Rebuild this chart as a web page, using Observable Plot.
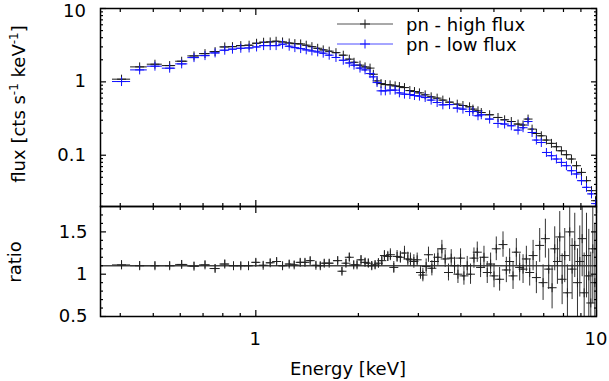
<!DOCTYPE html>
<html><head><meta charset="utf-8">
<script src="https://cdn.jsdelivr.net/npm/d3@7"></script>
<script src="https://cdn.jsdelivr.net/npm/@observablehq/plot@0.6"></script>
<style>
html,body{margin:0;padding:0;background:#fff;}
#chart{position:relative;width:609px;height:381px;overflow:hidden;}
#chart svg{position:absolute;left:0;overflow:visible;}
</style></head><body><div id="chart"></div>
<script>
// ---- data ----
const energy = [0.4035,0.456,0.5057,0.5586,0.6058,0.6585,0.7093,0.7593,0.8106,0.854,0.9034,0.9556,1.005,1.054,1.102,1.147,1.198,1.253,1.302,1.354,1.406,1.461,1.519,1.577,1.642,1.719,1.806,1.881,1.942,2.022,2.092,2.164,2.213,2.269,2.331,2.4,2.478,2.564,2.639,2.731,2.832,2.922,3.022,3.141,3.271,3.406,3.54,3.703,3.902,4.055,4.24,4.338,4.489,4.59,4.856,5.139,5.374,5.623,5.885,6.087,6.297,6.47,6.661,6.888,7.129,7.375,7.627,7.889,8.161,8.443,8.735,9.034,9.346,9.667,9.933];
const fluxHigh = [1.088,1.6,1.741,1.667,1.912,2.258,2.427,2.584,2.993,3.02,3.12,3.16,3.36,3.47,3.5,3.58,3.5,3.39,3.32,3.29,3.16,3.02,2.87,2.73,2.62,2.5,2.31,2.04,1.85,1.69,1.6,1.54,1.27,1.03,0.948,0.919,0.91,0.882,0.863,0.836,0.761,0.738,0.708,0.665,0.625,0.6,0.564,0.529,0.497,0.476,0.457,0.425,0.403,0.382,0.356,0.327,0.304,0.288,0.266,0.258,0.311,0.227,0.198,0.184,0.161,0.145,0.1305,0.115,0.1016,0.0888,0.072,0.0583,0.045,0.0329,0.024];
const fluxLow = [1.01,1.456,1.635,1.536,1.758,2.141,2.279,2.48,2.7,2.79,2.87,2.9,2.99,3.12,3.12,3.12,3.26,3.06,2.93,2.84,2.73,2.64,2.56,2.46,2.31,2.15,1.97,1.81,1.69,1.54,1.456,1.297,1.17,0.978,0.754,0.754,0.771,0.771,0.708,0.68,0.672,0.651,0.639,0.611,0.564,0.523,0.486,0.49,0.439,0.425,0.394,0.394,0.345,0.356,0.311,0.271,0.266,0.252,0.22,0.237,0.288,0.204,0.161,0.149,0.109,0.0985,0.0888,0.0798,0.072,0.0615,0.0555,0.045,0.0365,0.0297,0.0219];

const ratioEnergy = [0.4035,0.456,0.5057,0.5586,0.6058,0.6585,0.7093,0.7593,0.8106,0.86,0.9034,0.9518,1.0,1.051,1.102,1.151,1.198,1.253,1.296,1.35,1.394,1.444,1.501,1.546,1.588,1.642,1.739,1.79,1.839,1.881,1.938,1.982,2.036,2.092,2.139,2.189,2.239,2.29,2.343,2.385,2.44,2.483,2.541,2.598,2.657,2.731,2.794,2.844,2.91,2.976,3.043,3.093,3.162,3.212,3.287,3.345,3.423,3.517,3.596,3.677,3.746,3.831,3.92,3.99,4.082,4.174,4.268,4.368,4.467,4.568,4.674,4.779,4.888,5.002,5.08,5.195,5.316,5.437,5.559,5.689,5.817,5.949,6.087,6.225,6.366,6.514,6.661,6.812,6.97,7.079,7.239,7.407,7.54,7.679,7.8,7.927,8.068,8.216,8.345,8.481,8.633,8.793,8.932,9.077,9.201,9.346,9.493,9.621,9.752,9.886];
const ratioValue = [1.11,1.1,1.1,1.1,1.115,1.095,1.11,1.067,1.12,1.1,1.1,1.1,1.14,1.105,1.135,1.15,1.1,1.12,1.11,1.14,1.14,1.16,1.105,1.1,1.13,1.13,1.16,1.035,1.13,1.2,1.11,1.11,1.17,1.14,1.13,1.1,1.11,1.13,1.16,1.22,1.21,1.23,1.08,1.21,1.2,1.25,1.18,1.17,1.15,1.17,1.02,0.99,1.09,1.23,1.07,1.15,1.2,1.3,1.18,1.02,1.19,1.1,1.0,1.19,0.98,1.1,1.0,1.19,1.26,1.08,1.2,1.02,1.12,0.98,1.3,0.94,1.35,1.05,1.15,0.98,1.26,1.08,1.06,1.18,1.02,1.22,0.96,1.34,0.9,1.42,1.06,0.84,1.3,1.15,1.44,0.94,1.22,0.78,1.5,1.06,1.34,0.9,1.15,1.42,0.78,1.22,0.98,0.66,1.3,0.9];
const ratioError = [0.05,0.05,0.045,0.045,0.045,0.045,0.045,0.045,0.045,0.04,0.04,0.04,0.04,0.04,0.04,0.04,0.04,0.04,0.04,0.04,0.04,0.04,0.04,0.04,0.04,0.04,0.045,0.045,0.045,0.05,0.045,0.045,0.05,0.05,0.05,0.05,0.05,0.055,0.06,0.06,0.06,0.07,0.07,0.07,0.07,0.08,0.08,0.08,0.08,0.08,0.08,0.08,0.09,0.09,0.09,0.09,0.1,0.1,0.1,0.1,0.1,0.1,0.11,0.11,0.11,0.11,0.12,0.12,0.12,0.12,0.13,0.13,0.13,0.14,0.14,0.14,0.15,0.15,0.15,0.16,0.16,0.16,0.17,0.15,0.16,0.18,0.19,0.2,0.21,0.23,0.24,0.25,0.26,0.27,0.3,0.3,0.32,0.33,0.35,0.36,0.38,0.4,0.42,0.45,0.47,0.5,0.55,0.6,0.65,0.7];
const ratioModel = 1.1;

const seriesNames = ["pn - high flux", "pn - low flux"];
const xTickLabels = [1, 10];
const fluxTickLabels = [0.1, 1, 10];
const ratioTickLabels = [0.5, 1, 1.5];
const xAxisTitle = "Energy [keV]";
const ratioTitle = "ratio";

// ---- derived ----
const colors = ["#1a1a1a", "#1010ff"];
function withBins(E, extra) {
  return E.map((e, i) => {
    const lo = i > 0 ? Math.sqrt(E[i-1]*e) : e*e/Math.sqrt(e*E[i+1]);
    const hi = i < E.length-1 ? Math.sqrt(e*E[i+1]) : e*e/Math.sqrt(E[i-1]*e);
    return Object.assign({e, lo, hi}, extra(i));
  });
}
const high = withBins(energy, i => ({f: fluxHigh[i]}));
const low = withBins(energy, i => ({f: fluxLow[i]}));
const ratio = withBins(ratioEnergy, i => ({r: ratioValue[i], r1: ratioValue[i]-ratioError[i], r2: ratioValue[i]+ratioError[i]}));

const xMinor = [0.4,0.5,0.6,0.7,0.8,0.9,2,3,4,5,6,7,8,9];
const fluxMinor = [];
[0.01,0.1,1].forEach(d => [2,3,4,5,6,7,8,9].forEach(k => { const v = +(d*k).toPrecision(3); if (v >= 0.02) fluxMinor.push(v); }));
const ratioMinor = d3.range(5, 19).map(k => k/10).filter(v => !ratioTickLabels.includes(v));

const font = '"DejaVu Sans", sans-serif';
const W = 609, ML = 100, MR = 13;
const blank = () => "";
const R = 3;

function tickMarks(scale, anchors, major, minor) {
  const out = [];
  const ax = scale === "x" ? Plot.axisX : Plot.axisY;
  for (const a of anchors) {
    out.push(ax(major, {anchor: a, tickSize: -6, tickFormat: blank, label: null, strokeWidth: 1.2}));
    out.push(ax(minor, {anchor: a, tickSize: -3, tickFormat: blank, label: null, strokeWidth: 1.2}));
  }
  return out;
}

const topPlot = Plot.plot({
  width: W, height: 207, marginLeft: ML, marginRight: MR, marginTop: 8, marginBottom: 1,
  x: {type: "log", domain: [0.35, 10]},
  y: {type: "log", domain: [0.02, 10]},
  style: {fontFamily: font, fontSize: "18px", background: "transparent", color: "#000"},
  marks: [
    Plot.ruleY(high, {y: "f", x1: "lo", x2: "hi", stroke: colors[0], strokeWidth: 1, clip: true}),
    Plot.dot(high, {x: "e", y: "f", symbol: "plus", r: R, stroke: colors[0], strokeWidth: 1, clip: true}),
    Plot.ruleY(low, {y: "f", x1: "lo", x2: "hi", stroke: colors[1], strokeWidth: 1, clip: true}),
    Plot.dot(low, {x: "e", y: "f", symbol: "plus", r: R, stroke: colors[1], strokeWidth: 1, clip: true}),
    ...tickMarks("x", ["top", "bottom"], xTickLabels, xMinor),
    ...tickMarks("y", ["left", "right"], fluxTickLabels, fluxMinor),
    Plot.frame({stroke: "#000", strokeWidth: 1.5})
  ]
});

const botPlot = Plot.plot({
  width: W, height: 175, marginLeft: ML, marginRight: MR, marginTop: 0, marginBottom: 65,
  x: {type: "log", domain: [0.35, 10]},
  y: {domain: [0.5, 1.8]},
  style: {fontFamily: font, fontSize: "18px", background: "transparent", color: "#000"},
  marks: [
    Plot.ruleY([ratioModel], {stroke: "#444", strokeWidth: 1.3}),
    Plot.ruleX(ratio, {x: "e", y1: "r1", y2: "r2", stroke: "#333", strokeWidth: 1, clip: true}),
    Plot.ruleY(ratio, {y: "r", x1: "lo", x2: "hi", stroke: "#333", strokeWidth: 1, clip: true}),
    Plot.dot(ratio, {x: "e", y: "r", symbol: "plus", r: R, stroke: "#222", strokeWidth: 1, clip: true}),
    ...tickMarks("x", ["top", "bottom"], xTickLabels, xMinor),
    ...tickMarks("y", ["left", "right"], ratioTickLabels, ratioMinor),
    Plot.axisY(ratioTickLabels, {anchor: "left", tickSize: 0, tickPadding: 13, tickFormat: d => String(d), label: null}),
    Plot.frame({stroke: "#000", strokeWidth: 1.5})
  ]
});

const chart = document.getElementById("chart");
topPlot.style.top = "0px";
botPlot.style.top = "206px";
chart.appendChild(topPlot);
chart.appendChild(botPlot);

function addText(sel, attrs, text) {
  const el = sel.append("text").attr("font-family", font).attr("font-size", 18)
    .attr("fill", "#000").attr("text-anchor", "middle");
  for (const k in attrs) el.attr(k, attrs[k]);
  if (text != null) el.text(text);
  return el;
}

// flux tick labels (the top one nudged down so it stays inside the page)
const ts = d3.select(topPlot);
const ys = topPlot.scale("y");
fluxTickLabels.forEach(v => {
  const y = Math.max(ys.apply(v) + 6, 17);
  addText(ts, {x: ML - 14, y, "text-anchor": "end"}, String(v));
});

// y-axis title of the flux panel (with superscripts)
const t = addText(ts, {transform: "translate(25,104) rotate(-90)"});
t.append("tspan").text("flux [cts s");
t.append("tspan").attr("dy", -7).attr("font-size", 12).text("-1");
t.append("tspan").attr("dy", 7).text(" keV");
t.append("tspan").attr("dy", -7).attr("font-size", 12).text("-1");
t.append("tspan").attr("dy", 7).text("]");

// legend
seriesNames.forEach((name, i) => {
  const y = 24 + 20 * i;
  const g = ts.append("g");
  g.append("line").attr("x1", 337).attr("x2", 393).attr("y1", y).attr("y2", y)
    .attr("stroke", colors[i]).attr("stroke-width", 1).attr("stroke-opacity", 0.75);
  g.append("path").attr("d", `M360,${y}h10M365,${y-4.5}v9`).attr("stroke", colors[i]).attr("fill", "none");
  addText(g, {x: 406, y: y + 6.5, "text-anchor": "start"}, name);
});

// bottom panel: x tick labels and titles
const bs = d3.select(botPlot);
const xs = botPlot.scale("x");
xTickLabels.forEach(v => addText(bs, {x: xs.apply(v), y: 139}, String(v)));
addText(bs, {transform: "translate(21,56) rotate(-90)"}, ratioTitle);
addText(bs, {x: 348, y: 169}, xAxisTitle);
</script></body></html>
